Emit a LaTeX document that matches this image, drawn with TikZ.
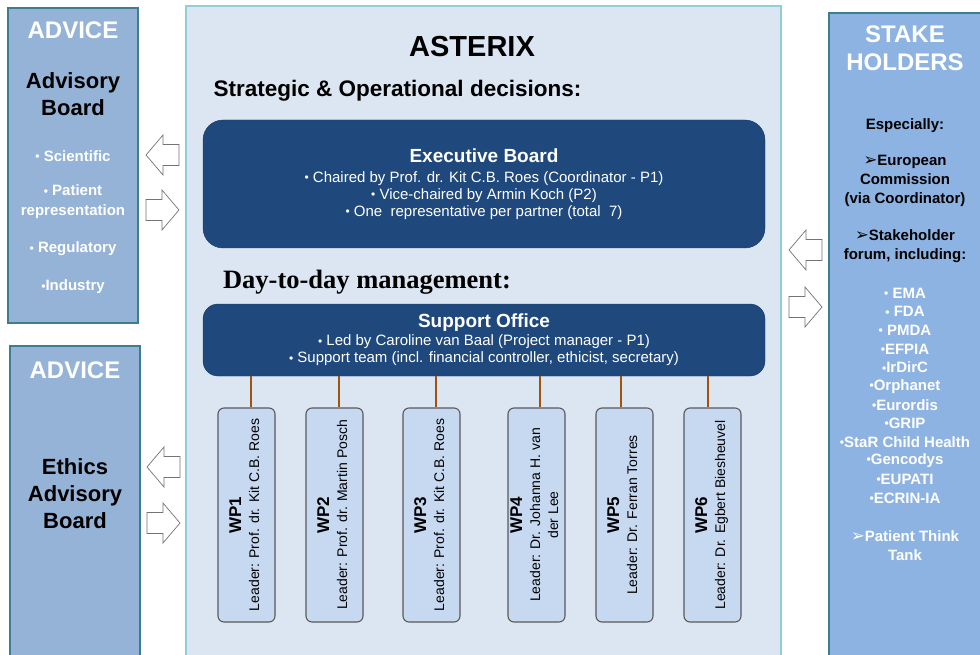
\documentclass[tikz,border=0pt]{standalone}
\usepackage{fontspec}
\setmainfont{Liberation Sans}
\newfontfamily\headserif{Liberation Serif}
\newfontfamily\symfont{DejaVu Sans}
\definecolor{navy}{HTML}{1F497D}
\definecolor{panelleft}{HTML}{95B3D7}
\definecolor{panelright}{HTML}{8DB3E2}
\definecolor{panelline}{HTML}{3C7D92}
\definecolor{mainfill}{HTML}{DCE6F2}
\definecolor{mainline}{HTML}{92CDDC}
\definecolor{wpfill}{HTML}{C6D9F1}
\definecolor{wpline}{HTML}{595959}
\definecolor{linkbrown}{HTML}{A0520F}
\newcommand{\fsz}[2]{\fontsize{#1}{#2}\selectfont}
\newcommand{\dotb}{\raisebox{0.1ex}{\scalebox{0.8}{•}}}
\newcommand{\pointer}{{\symfont\scalebox{1.1}{➢}}}
\newcommand{\wptext}[2]{\rotatebox{90}{\begin{tabular}{@{}c@{}}{\fsz{17}{18}\bfseries #1}\\#2\end{tabular}}}
\tikzset{panel/.style = {draw=panelline, line width=2.5pt, inner sep=0}}
\tikzset{headtext/.style = {text=white, font=\fsz{24}{28}\bfseries, align=center}}
\tikzset{boardtext/.style = {font=\fsz{22}{27}\bfseries, align=center}}
\tikzset{whitetext/.style = {text=white, font=\fsz{15}{19}\bfseries, align=center}}
\tikzset{blacktext/.style = {font=\fsz{15}{19}\bfseries, align=center}}
\tikzset{hollow/.pic = {\draw [draw=black!55, fill=white, line width=0.7pt]
                          (-16.5,0) -- (0.5,-20) -- (0.5,-10.5) -- (16.5,-10.5)
                          -- (16.5,10.5) -- (0.5,10.5) -- (0.5,20) -- cycle;}}
\tikzset{navybox/.style = {fill=navy, draw=navy!80!black, text=white, minimum width=562pt,
                           align=center, font=\fsz{15}{17}}}
\tikzset{wpbox/.style = {draw=wpline, fill=wpfill, rounded corners=6pt, line width=1.1pt,
                         minimum width=57pt, minimum height=214pt, inner sep=0, font=\fsz{14}{18}}}
\tikzset{link/.style = {draw=linkbrown, line width=2pt}}

\begin{document}
\begin{tikzpicture}[x=1pt, y=-1pt]
  \path[use as bounding box, clip] (0,0) rectangle (980,655);
  \fill[white] (0,0) rectangle (980,655);

  \node [draw=mainline, line width=1.5pt, fill=mainfill, minimum width=595pt, minimum height=694pt] (main) at (483.5,353) {};
  \node [panel, fill=panelleft, minimum width=130pt, minimum height=315pt] (advpanel) at (73,165.5) {};
  \node [panel, fill=panelleft, minimum width=130pt, minimum height=354pt] (ethpanel) at (75,523) {};
  \node [panel, fill=panelright, minimum width=171pt, minimum height=687pt] (stakepanel) at (914.5,356.5) {};

  \node [font=\fsz{29}{30}\bfseries] (title) at (472,47) {ASTERIX};
  \node [font=\fsz{22.5}{24}\bfseries] (strategic) at (397.5,91) {Strategic \& Operational decisions:};
  \node [font=\fsz{26.5}{28}\headserif\bfseries] (daytoday) at (367,282) {Day-to-day management:};

  \node [navybox, rounded corners=20pt, minimum height=128pt] (exec) at (484,184)
    {{\fsz{19}{20}\bfseries Executive Board}\\[3pt]
     \dotb\ Chaired by Prof. dr. Kit C.B. Roes (Coordinator - P1)\\
     \dotb\ Vice-chaired by Armin Koch (P2)\\
     \dotb\ One\ \ representative per partner (total\ \ 7)};
  \node [navybox, rounded corners=15pt, minimum height=72pt] (office) at (484,340)
    {{\fsz{19}{20}\bfseries Support Office}\\[1pt]
     \dotb\ Led by Caroline van Baal (Project manager - P1)\\
     \dotb\ Support team (incl. financial controller, ethicist, secretary)};

  \node [wpbox] (wp1) at (246.5,515) {\wptext{WP1}{Leader: Prof. dr. Kit C.B. Roes}};
  \node [wpbox] (wp2) at (334.5,515) {\wptext{WP2}{Leader: Prof. dr. Martin Posch}};
  \node [wpbox] (wp3) at (431.5,515) {\wptext{WP3}{Leader: Prof. dr. Kit C.B. Roes}};
  \node [wpbox] (wp4) at (536.5,515) {\wptext{WP4}{Leader: Dr. Johanna H. van\\der Lee}};
  \node [wpbox] (wp5) at (624.5,515) {\wptext{WP5}{Leader: Dr. Ferran Torres}};
  \node [wpbox] (wp6) at (712.5,515) {\wptext{WP6}{Leader: Dr. Egbert Biesheuvel}};
  \foreach \i/\dx in {1/4.5, 2/4.5, 3/4.5, 4/3.5, 5/-3.5, 6/-4.5}
    \draw [link] ([xshift=\dx pt]wp\i.north) -- ([xshift=\dx pt]wp\i.north |- office.south);

  \node [headtext] (advhead) at (73,30) {ADVICE};
  \node [boardtext] (advboard) at (73,94) {Advisory\\Board};
  \node [whitetext] (sci) at (73,156) {\dotb\ Scientific};
  \node [whitetext, font=\fsz{15}{20}\bfseries] (pat) at (73,202) {\dotb\ Patient\\representation};
  \node [whitetext] (reg) at (73,249) {\dotb\ Regulatory};
  \node [whitetext] (ind) at (73,287) {\dotb Industry};

  \node [headtext] (ethhead) at (75,370) {ADVICE};
  \node [boardtext] (ethboard) at (75,494) {Ethics\\Advisory\\Board};

  \node [headtext] (stakehead) at (905,48) {STAKE\\HOLDERS};
  \node [blacktext] (especially) at (905,126) {Especially:};
  \node [blacktext] (commission) at (905,181) {\pointer European\\Commission\\(via Coordinator)};
  \node [blacktext] (forum) at (905,246.5) {\pointer Stakeholder\\forum, including:};
  \foreach \org [count=\i] in {\dotb\ EMA, \dotb\ FDA, \dotb\ PMDA, \dotb EFPIA, \dotb IrDirC, \dotb Orphanet,
                               \dotb Eurordis, \dotb GRIP, \dotb StaR Child Health, \dotb Gencodys, \dotb EUPATI, \dotb ECRIN-IA}
    \node [whitetext] (org\i) at (905,{293+18.64*(\i-1)}) {\org};
  \node [whitetext] (thinktank) at (905,546) {\pointer Patient Think\\Tank};

  \pic at (162.5,155) {hollow};
  \pic [rotate=180] at (162.5,210) {hollow};
  \pic at (163.5,467) {hollow};
  \pic [rotate=180] at (163.5,523) {hollow};
  \pic at (805.5,250) {hollow};
  \pic [rotate=180] at (805.5,307) {hollow};
\end{tikzpicture}
\end{document}
